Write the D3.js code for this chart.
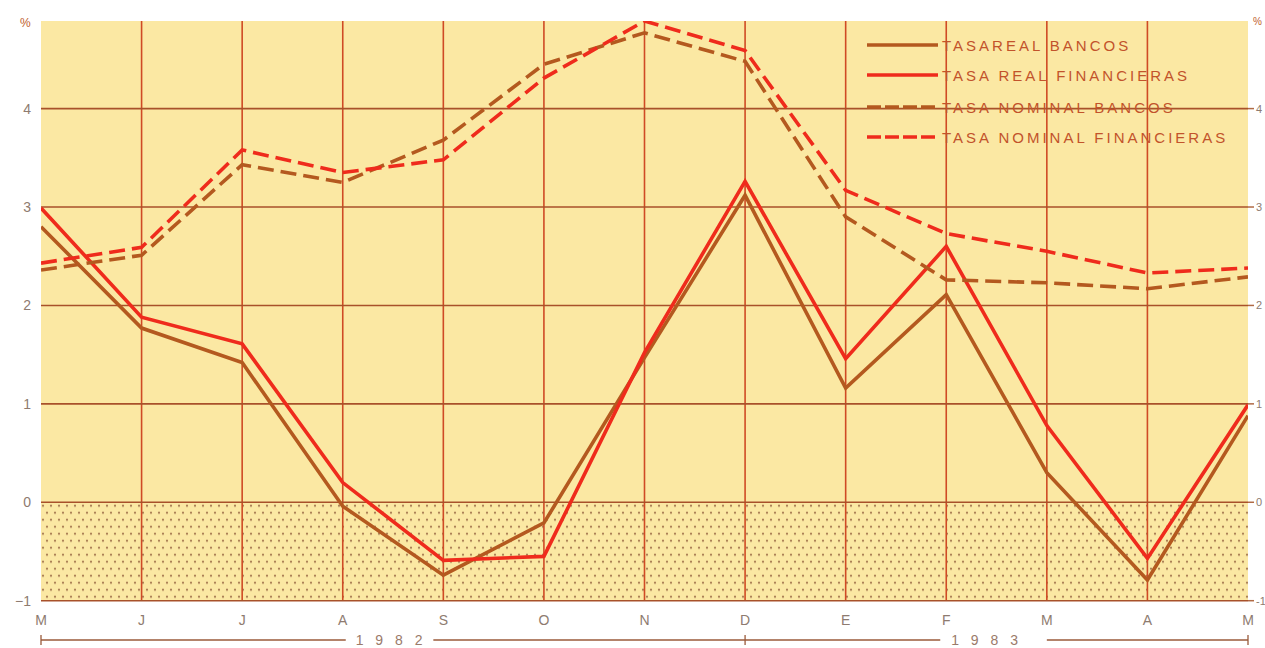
<!DOCTYPE html>
<html><head><meta charset="utf-8">
<script src="https://cdn.jsdelivr.net/npm/d3@7"></script>
<style>body{margin:0;background:#fff}svg{display:block}</style>
</head><body>
<svg id="c" width="1265" height="648"></svg>
<script>
const months = ["M","J","J","A","S","O","N","D","E","F","M","A","M"];
const yTicks = [-1,0,1,2,3,4];
const realBancos = [2.8,1.77,1.42,-0.04,-0.74,-0.21,1.47,3.12,1.16,2.11,0.3,-0.79,0.88];
const realFinancieras = [2.99,1.88,1.61,0.2,-0.59,-0.55,1.52,3.26,1.46,2.6,0.78,-0.57,0.99];
const nominalBancos = [2.36,2.51,3.43,3.25,3.68,4.45,4.77,4.48,2.9,2.26,2.23,2.17,2.29];
const nominalFinancieras = [2.43,2.59,3.58,3.35,3.48,4.31,4.89,4.59,3.17,2.73,2.55,2.33,2.38];
const seriesNames = ["TASAREAL BANCOS","TASA REAL FINANCIERAS","TASA NOMINAL BANCOS","TASA NOMINAL FINANCIERAS"];
const years = ["1 9 8 2","1 9 8 3"];

const brown = "#b4591f", red = "#ef2b1c";
const series = [
  {name: seriesNames[0], values: realBancos, color: brown, dash: null},
  {name: seriesNames[1], values: realFinancieras, color: red, dash: null},
  {name: seriesNames[2], values: nominalBancos, color: brown, dash: "16,7"},
  {name: seriesNames[3], values: nominalFinancieras, color: red, dash: "16,7"}
];

const svg = d3.select("#c");
const L = 41, R = 1248, T = 21, B = 600.7;
const x = d3.scalePoint().domain(d3.range(months.length)).range([L, R]);
const y = d3.scaleLinear().domain([-1, 4.89]).range([B, T]);
const FONT = "Liberation Sans, Arial, sans-serif";

const defs = svg.append("defs");
const pat = defs.append("pattern").attr("id","dots").attr("patternUnits","userSpaceOnUse")
  .attr("width",8).attr("height",14).attr("x",L).attr("y",y(0));
pat.append("circle").attr("cx",2).attr("cy",3.5).attr("r",1.1).attr("fill","#9a6a45");
pat.append("circle").attr("cx",6).attr("cy",10.5).attr("r",1.1).attr("fill","#9a6a45");
const clip = defs.append("clipPath").attr("id","clip");
clip.append("rect").attr("x",L).attr("y",T).attr("width",R-L).attr("height",B-T+2);

// background
svg.append("rect").attr("x",L).attr("y",T).attr("width",R-L).attr("height",B-T).attr("fill","#fbe8a3");
svg.append("rect").attr("x",L).attr("y",y(0)).attr("width",R-L).attr("height",y(-1)-y(0)).attr("fill","url(#dots)");

// grid
const g = svg.append("g");
g.selectAll(".vl").data(d3.range(1, months.length-1)).join("line")
  .attr("x1",d=>x(d)).attr("x2",d=>x(d)).attr("y1",T).attr("y2",B)
  .attr("stroke","#cf4a25").attr("stroke-width",1.6);
g.selectAll(".hl").data(yTicks).join("line")
  .attr("x1",L).attr("x2",R).attr("y1",d=>y(d)).attr("y2",d=>y(d))
  .attr("stroke","#a8512a").attr("stroke-width",1.6);

// left axis labels
const labCol = "#8e7b70";
svg.selectAll(".yl").data(yTicks).join("text")
  .attr("x",31).attr("y",d=>y(d)+5).attr("text-anchor","end")
  .attr("font-family",FONT).attr("font-size",14)
  .attr("fill",labCol).text(d=>d<0?"\u2212"+Math.abs(d):d);
svg.append("text").attr("x",20).attr("y",y(4.89)+6).attr("font-family",FONT)
  .attr("font-size",12).attr("fill","#c0602e").text("%");

// right axis
svg.selectAll(".rt").data(yTicks).join("line")
  .attr("x1",R).attr("x2",R+6).attr("y1",d=>y(d)).attr("y2",d=>y(d))
  .attr("stroke","#b06a45").attr("stroke-width",1.5);
svg.selectAll(".yr").data(yTicks).join("text")
  .attr("x",R+8).attr("y",d=>y(d)+4)
  .attr("font-family",FONT).attr("font-size",11)
  .attr("fill",labCol).text(d=>d<0?"-"+Math.abs(d):d);
svg.append("text").attr("x",R+5).attr("y",y(4.89)+4).attr("font-family",FONT)
  .attr("font-size",10).attr("fill","#c0602e").text("%");

// x labels
svg.selectAll(".xl").data(months).join("text")
  .attr("x",(d,i)=>x(i)).attr("y",625).attr("text-anchor","middle")
  .attr("font-family",FONT).attr("font-size",14)
  .attr("fill",labCol).text(d=>d);

// year axis
const yy = 640;
const ya = svg.append("g").attr("stroke","#9a5a3a").attr("stroke-width",1.3);
ya.append("line").attr("x1",x(0)).attr("x2",x(3)+3).attr("y1",yy).attr("y2",yy);
ya.append("line").attr("x1",x(4)-10).attr("x2",x(9)-6).attr("y1",yy).attr("y2",yy);
ya.append("line").attr("x1",x(10)).attr("x2",x(12)).attr("y1",yy).attr("y2",yy);
[0,7,12].forEach(i=>ya.append("line").attr("x1",x(i)).attr("x2",x(i)).attr("y1",yy-5).attr("y2",yy+5));
svg.append("text").attr("x",(x(3)+x(4))/2-2).attr("y",yy+5).attr("text-anchor","middle")
  .attr("font-family",FONT).attr("font-size",14).attr("letter-spacing","4px")
  .attr("fill","#9a7a6a").text(years[0]);
svg.append("text").attr("x",(x(9)+x(10))/2-10).attr("y",yy+5).attr("text-anchor","middle")
  .attr("font-family",FONT).attr("font-size",14).attr("letter-spacing","4px")
  .attr("fill","#9a7a6a").text(years[1]);

// lines
const line = d3.line().x((d,i)=>x(i)).y(d=>y(d));
const lg = svg.append("g").attr("clip-path","url(#clip)");
lg.selectAll("path").data(series).join("path")
  .attr("d",d=>line(d.values)).attr("fill","none")
  .attr("stroke",d=>d.color).attr("stroke-width",3.6)
  .attr("stroke-dasharray",d=>d.dash).attr("stroke-linejoin","miter");

// legend
const leg = svg.append("g");
const rows = [45,75,107,137];
series.forEach((s,i)=>{
  leg.append("line").attr("x1",867).attr("x2",938).attr("y1",rows[i]).attr("y2",rows[i])
    .attr("stroke",s.color).attr("stroke-width",3.6).attr("stroke-dasharray",s.dash?"14,4":null);
  leg.append("text").attr("x",942).attr("y",rows[i]+5.5)
    .attr("font-family",FONT).attr("font-size",15).attr("letter-spacing","3px")
    .attr("fill","#c2532b").text(s.name);
});
</script>
</body></html>
